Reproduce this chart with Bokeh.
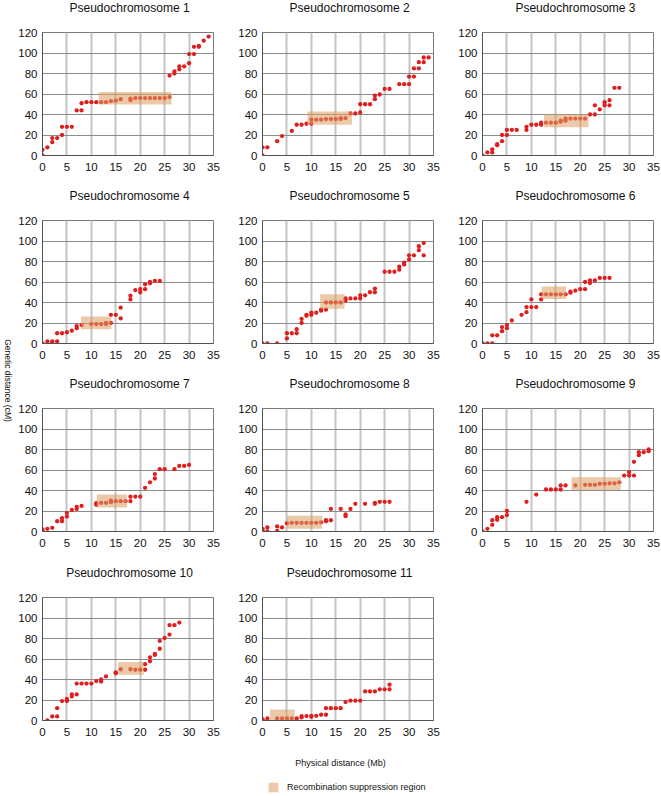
from math import pi
from bokeh.plotting import figure
from bokeh.models import Range1d, FixedTicker, Legend, LegendItem, Label
from bokeh.layouts import row, column
from bokeh.embed import file_html
from bokeh.resources import INLINE

# ---------------- data ----------------
titles = ["Pseudochromosome %d" % i for i in range(1, 12)]
x_ticks = [0, 5, 10, 15, 20, 25, 30, 35]
y_ticks = [0, 20, 40, 60, 80, 100, 120]

x1 = [0, 0, 1, 2, 2, 3, 4, 4, 5, 6, 7, 8, 8, 9, 10, 11, 12, 13, 14, 15, 16, 18, 18, 19, 20, 21, 22, 23, 24, 25, 26, 26, 27, 27, 28, 28, 29, 30, 30, 31, 31, 32, 32, 33, 34]
y1 = [0, 5.5, 8, 13, 17, 17, 20, 28, 28, 28, 44, 44, 51, 52, 52, 52, 52, 52, 53, 53.5, 55, 54, 55.5, 56, 56, 56, 56, 56, 56, 56, 57, 78, 80, 82, 84, 87, 87, 90, 99, 99, 106, 106, 107, 112, 116]

x2 = [0, 0, 1, 3, 4, 6, 7, 8, 9, 10, 10, 11, 12, 13, 14, 15, 16, 16, 17, 18, 19, 20, 20, 21, 22, 23, 23, 24, 25, 26, 28, 29, 30, 30, 31, 31, 32, 32, 33, 33, 34]
y2 = [0, 8, 8, 14, 19, 24, 30, 30, 31, 31, 35, 35, 35, 35.5, 35.5, 35.5, 35.5, 36.5, 36.5, 41, 41, 42, 50, 50, 50, 55, 58.5, 59.5, 65, 65, 69.6, 69.6, 69.6, 77, 77, 85, 85, 91, 91, 95.6, 95.6]

x3 = [0, 1, 2, 2, 3, 3, 4, 4, 5, 5, 6, 7, 9, 9, 10, 11, 12, 12, 13, 14, 15, 16, 16, 17, 17, 18, 19, 20, 21, 22, 23, 23, 24, 25, 25, 26, 26, 27, 28]
y3 = [0, 3, 3, 6, 10, 11, 14, 20, 20, 25, 25, 25, 25, 28, 30, 30, 30, 32, 32, 32, 32, 33, 34, 34, 36, 36, 36, 36, 36, 40, 40, 49, 45, 49, 52, 49, 54, 66, 66]

x4 = [0, 1, 2, 2, 3, 3, 4, 5, 6, 7, 7, 8, 10, 11, 12, 13, 13, 14, 14, 15, 16, 16, 18, 18, 19, 20, 20, 21, 21, 22, 22, 23, 24]
y4 = [0, 2, 2, 0, 2, 10, 10, 11, 12.5, 15, 17, 18, 19, 19, 19, 19, 20, 20, 28, 28, 24.5, 35, 43, 46.6, 52, 50, 53, 53, 57.7, 58.7, 60, 61, 61]

x5 = [0, 1, 3, 5, 5, 6, 7, 7, 8, 8, 9, 9, 10, 10, 11, 12, 12, 13, 13, 14, 15, 16, 17, 17, 18, 19, 20, 20, 21, 22, 23, 23, 25, 26, 27, 28, 28, 29, 29, 30, 30, 31, 32, 32, 33, 33]
y5 = [0, 0, 0, 5, 10, 10, 10, 14, 20, 24, 27, 28, 28, 30, 30, 32, 33, 33, 40, 40, 40, 40, 42, 44, 44, 44, 44, 47, 47, 50, 50, 53.6, 70, 70, 70, 72, 75, 77, 79, 82, 86, 86, 91, 95, 86, 98]

x6 = [0, 1, 2, 2, 3, 4, 4, 5, 5, 6, 8, 9, 9, 10, 10, 11, 12, 12, 13, 14, 15, 16, 17, 18, 18, 19, 20, 21, 21, 22, 22, 23, 24, 25, 26]
y6 = [0, 0, 0, 8, 8, 12, 16, 15, 18, 22.5, 28, 30.6, 35.5, 35.5, 43, 35.5, 43, 48, 48, 48, 48, 48, 48, 49.6, 50.5, 51.5, 53, 53, 60, 59, 61.5, 61.5, 64, 64, 64]

x7 = [0, 0, 1, 2, 3, 4, 4, 5, 5, 6, 7, 7, 8, 11, 11, 12, 13, 14, 14, 15, 16, 17, 18, 18, 19, 20, 21, 22, 23, 23, 24, 25, 27, 28, 29, 30]
y7 = [0, 2, 2.6, 3.6, 10, 10, 13, 14.6, 18, 21, 22, 24, 25, 26, 27.6, 28, 28, 28.6, 30, 29.6, 29.6, 29.6, 29.6, 34, 34, 34, 42.6, 48, 51.7, 56, 60.8, 60.8, 60.8, 64, 64, 65]

x8 = [0, 0, 1, 1, 3, 3, 4, 5, 6, 7, 8, 9, 10, 11, 12, 13, 13, 14, 14, 16, 17, 17, 18, 19, 21, 23, 23, 24, 25, 26]
y8 = [2.6, 1.3, 4, 0, 5, 0.6, 4, 8, 8.5, 8.5, 8.5, 8.5, 8.5, 8.5, 9, 10, 11, 11, 22, 22, 16.6, 15, 22, 27, 27, 28, 27, 29, 29, 29]

x9 = [0, 1, 2, 2, 3, 3, 4, 5, 5, 9, 11, 13, 14, 15, 16, 16, 17, 19, 21, 22, 23, 24, 25, 26, 27, 28, 29, 30, 30, 31, 31, 32, 32, 33, 34, 34]
y9 = [0, 2.6, 6.5, 11, 11.4, 14, 14, 16, 20, 29, 36, 41, 41, 41, 41, 45, 45, 45, 45.5, 45.5, 45.5, 46.5, 46.5, 47, 47, 48, 54.6, 54.6, 58, 54.6, 68, 74.5, 77.4, 77.4, 78.4, 80]

x10 = [1, 2, 3, 3, 4, 5, 5, 6, 6, 7, 7, 8, 9, 10, 11, 12, 12, 13, 15, 15, 16, 18, 19, 20, 21, 21, 22, 22, 23, 23, 24, 24, 25, 26, 26, 27, 28]
y10 = [0, 4, 4, 12, 19, 19, 21, 23.5, 25.4, 25.4, 36, 36, 36, 36, 38.5, 38, 40, 43, 46, 47, 50, 50, 49.5, 49.5, 49.5, 55, 57.7, 61.6, 64, 65, 70, 77.6, 80.5, 83.8, 93, 93, 95.5]

x11 = [0, 0, 1, 3, 4, 5, 6, 7, 8, 8, 9, 10, 10, 11, 12, 13, 13, 14, 15, 16, 17, 18, 19, 20, 21, 22, 23, 24, 25, 26, 26]
y11 = [0, 1.3, 2, 2, 2, 2, 2, 2, 3, 4.3, 4.3, 3.6, 4.6, 4.6, 5.6, 5.6, 12, 12, 12, 12, 18, 19.3, 19.3, 19.3, 28.4, 28.4, 28.4, 30.4, 30.4, 30.4, 35]

# recombination suppression regions (Mb start/end, cM low/high)
region_x0 = [11.5, 9.2, 12.6, 7.9, 11.8, 12.1, 11.1, 5.0, 18.2, 15.5, 1.5]
region_x1 = [26.4, 18.3, 21.7, 14.1, 16.8, 17.1, 17.3, 12.2, 28.3, 20.7, 6.6]
region_y0 = [49.7, 30.0, 27.6, 14.0, 34.0, 43.3, 23.4, 2.6, 40.6, 44.7, -2.0]
region_y1 = [62.0, 43.0, 40.0, 26.4, 48.0, 55.7, 36.0, 15.4, 53.0, 57.0, 10.8]

xs_all = [x1, x2, x3, x4, x5, x6, x7, x8, x9, x10, x11]
ys_all = [y1, y2, y3, y4, y5, y6, y7, y8, y9, y10, y11]

# ---------------- style / layout ----------------
FONT = "Liberation Sans"
TEXT_COLOR = "#111111"
POINT_COLOR = "#e01e1e"
REGION_COLOR = "#dd9d62"
REGION_ALPHA = 0.55

LABEL_W = 15
LEFT = 26
FRAME_W = 172
COL_W = [220, 220, 206]
FRAME_H = 123
TITLE_H = 28          # strip holding the panel title
PLOT_TOP = 4          # gap between title strip and plot area
ROW_H = [188, 188, 189, 180]
TITLE_Y = 7.5         # title centre below the top of its strip


def make_title(k, c):
    w = COL_W[c]
    t = figure(width=w, height=TITLE_H, output_backend="svg", toolbar_location=None,
               x_range=Range1d(0, w), y_range=Range1d(TITLE_H, 0), min_border=0,
               x_axis_location=None, y_axis_location=None)
    t.grid.visible = False
    t.outline_line_color = None
    t.add_layout(Label(x=LEFT + FRAME_W / 2.0, y=TITLE_Y, text=titles[k],
                       text_align="center", text_baseline="middle",
                       text_font=FONT, text_font_size="12px", text_color=TEXT_COLOR))
    return t


def make_panel(k, r, c):
    h = ROW_H[r] - TITLE_H
    b = h - PLOT_TOP - FRAME_H
    p = figure(width=COL_W[c], height=h, output_backend="svg", toolbar_location=None,
               x_range=Range1d(0, 35), y_range=Range1d(0, 120),
               min_border_left=LEFT, min_border_right=COL_W[c] - LEFT - FRAME_W,
               min_border_top=PLOT_TOP, min_border_bottom=b)

    p.scatter(xs_all[k], ys_all[k], size=4.3, marker="circle",
              fill_color=POINT_COLOR, line_color=None)
    p.quad(left=[region_x0[k]], right=[region_x1[k]],
           bottom=[region_y0[k]], top=[region_y1[k]],
           fill_color=REGION_COLOR, fill_alpha=REGION_ALPHA, line_color=None)

    p.xaxis.ticker = FixedTicker(ticks=x_ticks)
    p.yaxis.ticker = FixedTicker(ticks=y_ticks)
    for ax in (p.xaxis[0], p.yaxis[0]):
        ax.major_tick_out = 0
        ax.major_tick_in = 0
        ax.minor_tick_out = 0
        ax.minor_tick_in = 0
        ax.axis_line_color = "#505050"
        ax.major_label_text_font = FONT
        ax.major_label_text_font_size = "11.5px"
        ax.major_label_text_color = TEXT_COLOR
    p.xaxis.major_label_standoff = 7
    p.yaxis.major_label_standoff = 5

    p.xgrid.grid_line_color = "#c4c4c4"
    p.xgrid.grid_line_width = 2
    p.ygrid.grid_line_color = "#8c8c8c"
    p.ygrid.grid_line_width = 1
    p.outline_line_color = "#7a7a7a"
    p.background_fill_color = "white"
    p.border_fill_color = "white"
    return column(make_title(k, c), p)


rows = []
k = 0
for r in range(4):
    cells = []
    for c in range(3):
        if k >= 11:
            break
        cells.append(make_panel(k, r, c))
        k += 1
    rows.append(row(*cells))
grid = column(*rows)

grid_h = sum(ROW_H)
lab = figure(width=LABEL_W, height=grid_h, output_backend="svg", toolbar_location=None,
             x_range=Range1d(0, LABEL_W), y_range=Range1d(grid_h, 0), min_border=0,
             x_axis_location=None, y_axis_location=None)
lab.grid.visible = False
lab.outline_line_color = None
lab.add_layout(Label(x=7.5, y=380, text="Genetic distance (cM)", angle=-pi / 2,
                     text_align="center", text_baseline="middle",
                     text_font=FONT, text_font_size="8.5px", text_color=TEXT_COLOR))

W = LABEL_W + sum(COL_W)
BH = 50
bot = figure(width=W, height=BH, output_backend="svg", toolbar_location=None,
             x_range=Range1d(0, W), y_range=Range1d(BH, 0), min_border=0,
             x_axis_location=None, y_axis_location=None)
bot.grid.visible = False
bot.outline_line_color = None
bot.add_layout(Label(x=340, y=17, text="Physical distance (Mb)",
                     text_align="center", text_baseline="middle",
                     text_font=FONT, text_font_size="9px", text_color=TEXT_COLOR))
# hidden proxy renderer (first region) that provides the legend swatch
proxy = bot.quad(left=region_x0[:1], right=region_x1[:1], bottom=region_y0[:1], top=region_y1[:1],
                 fill_color=REGION_COLOR, fill_alpha=REGION_ALPHA, line_color=None)
proxy.visible = False
legend = Legend(items=[LegendItem(label="Recombination suppression region", renderers=[proxy])],
                location=(267, 2), orientation="horizontal")
legend.padding = 0
legend.margin = 0
legend.spacing = 0
legend.border_line_color = None
legend.background_fill_alpha = 0
legend.glyph_width = 12
legend.glyph_height = 12
legend.label_height = 12
legend.label_standoff = 8
legend.label_text_font = FONT
legend.label_text_font_size = "9px"
legend.label_text_color = TEXT_COLOR
bot.add_layout(legend)

layout = column(row(lab, grid), bot)

open("out.html", "w").write(file_html(layout, INLINE))
